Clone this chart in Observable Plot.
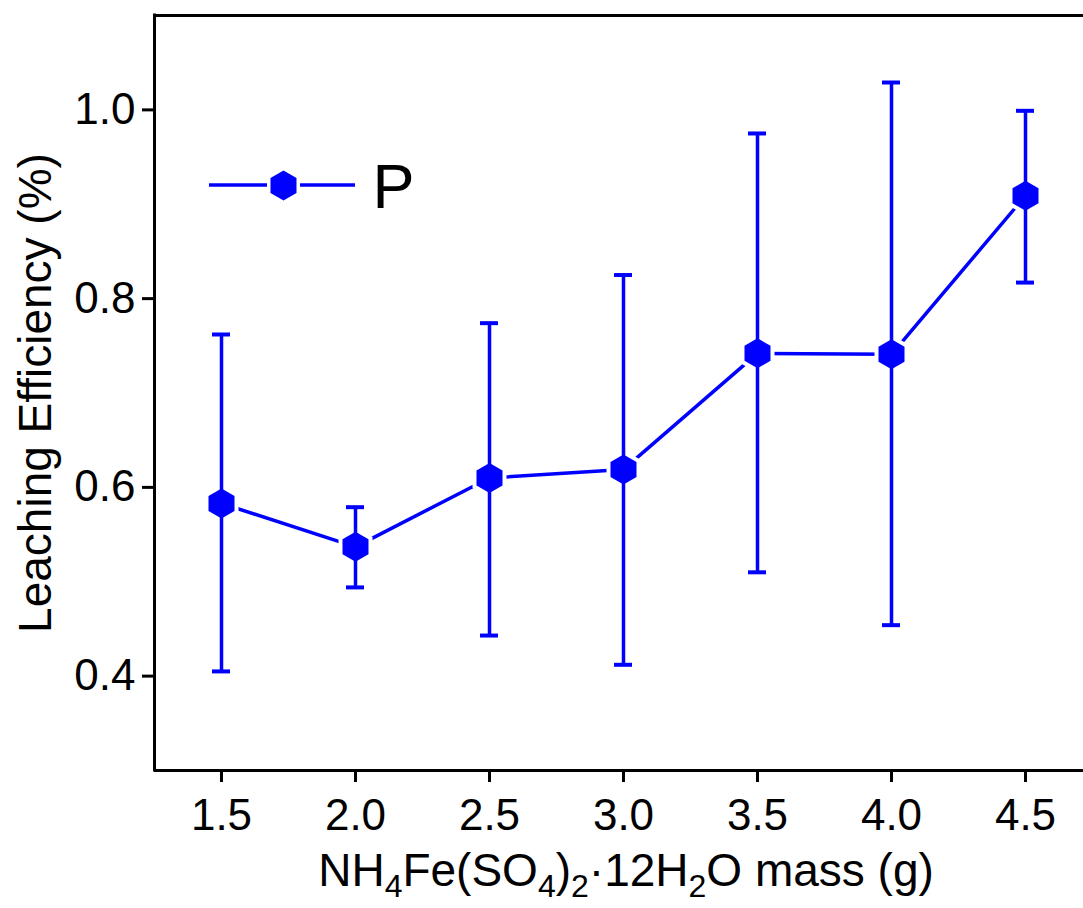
<!DOCTYPE html>
<html>
<head>
<meta charset="utf-8">
<script src="https://cdn.jsdelivr.net/npm/d3@7"></script>
<script src="https://cdn.jsdelivr.net/npm/@observablehq/plot@0.6"></script>
<style>
  html, body { margin: 0; padding: 0; background: white; overflow: hidden; }
</style>
</head>
<body>
<div id="chart"></div>
<script>
// Data
const masses = [1.5, 2.0, 2.5, 3.0, 3.5, 4.0, 4.5];
const meanValues = [0.583, 0.537, 0.610, 0.619, 0.742, 0.741, 0.909];
const upperValues = [0.762, 0.579, 0.774, 0.825, 0.975, 1.029, 0.999];
const lowerValues = [0.405, 0.494, 0.443, 0.412, 0.510, 0.454, 0.817];
const xTicks = [1.5, 2.0, 2.5, 3.0, 3.5, 4.0, 4.5];
const yTicks = [0.4, 0.6, 0.8, 1.0];
const xDomain = [1.25, 4.75];
const yDomain = [0.3, 1.1];
const seriesName = "P";
const yTitle = "Leaching Efficiency (%)";

const blue = "#0000ff";
const data = masses.map((x, i) => ({x, y: meanValues[i], hi: upperValues[i], lo: lowerValues[i]}));
const fmt = d3.format(".1f");

const plot = Plot.plot({
  width: 1083,
  height: 908,
  marginLeft: 154,
  marginTop: 15,
  marginBottom: 138,
  marginRight: 0,
  style: {fontFamily: "'Liberation Sans', Arial, sans-serif", color: "black", background: "white"},
  x: {domain: xDomain, range: [154, 1092]},
  y: {domain: yDomain},
  marks: [
    Plot.ruleY(yDomain, {stroke: "black", strokeWidth: 3}),
    Plot.ruleX([xDomain[0]], {stroke: "black", strokeWidth: 3, insetTop: -1.5, insetBottom: -1.5}),
    Plot.axisX(xTicks, {tickSize: 12, tickPadding: 16, strokeWidth: 3, fontSize: 44, tickFormat: fmt, label: null}),
    Plot.axisY(yTicks, {tickSize: 12, tickPadding: 7, strokeWidth: 3, fontSize: 44, tickFormat: fmt, label: null}),
    Plot.text([yTitle], {frameAnchor: "left", dx: -118, rotate: -90, textAnchor: "middle", lineAnchor: "middle", fontSize: 46, fill: "black"}),
    Plot.line(data, {x: "x", y: "y", stroke: blue, strokeWidth: 3.5}),
    Plot.dot(data, {x: "x", y: "y", symbol: "hexagon", r: 13, fill: blue, stroke: "white", strokeWidth: 8}),
    Plot.ruleX(data, {x: "x", y1: "lo", y2: "hi", stroke: blue, strokeWidth: 3.5}),
    Plot.ruleY(data, {x1: "x", x2: "x", y: "hi", insetLeft: -9, insetRight: -9, stroke: blue, strokeWidth: 4}),
    Plot.ruleY(data, {x1: "x", x2: "x", y: "lo", insetLeft: -9, insetRight: -9, stroke: blue, strokeWidth: 4}),
    Plot.dot(data, {x: "x", y: "y", symbol: "hexagon", r: 13, fill: blue}),
    // legend
    Plot.dot([seriesName], {frameAnchor: "top-left", dx: 129, dy: 170, symbol: "hexagon", r: 13, fill: blue, stroke: "white", strokeWidth: 7, paintOrder: "stroke"}),
    Plot.text([seriesName], {frameAnchor: "top-left", dx: 218, dy: 172, text: d => d, textAnchor: "start", lineAnchor: "middle", fontSize: 63, fill: "black"})
  ]
});

const NS = "http://www.w3.org/2000/svg";
const kids = Array.from(plot.children);
const legendDot = kids[kids.length - 2];
// legend line, placed behind the legend marker
const line = document.createElementNS(NS, "line");
line.setAttribute("x1", 209); line.setAttribute("x2", 355);
line.setAttribute("y1", 185); line.setAttribute("y2", 185);
line.setAttribute("stroke", blue); line.setAttribute("stroke-width", 3.5);
plot.insertBefore(line, legendDot);

// x-axis title with subscripts
const t = d3.select(plot).append("text")
  .attr("x", 626).attr("y", 886)
  .attr("text-anchor", "middle")
  .attr("font-size", 46)
  .attr("fill", "black");
const parts = [["NH", 0], ["4", 1], ["Fe(SO", 0], ["4", 1], [")", 0], ["2", 1], ["\u00b712H", 0], ["2", 1], ["O mass (g)", 0]];
let prevSub = false;
for (const [s, sub] of parts) {
  const dy = sub && !prevSub ? 11 : (!sub && prevSub ? -11 : 0);
  t.append("tspan").attr("dy", dy).attr("font-size", sub ? 32 : 46).text(s);
  prevSub = !!sub;
}

document.getElementById("chart").appendChild(plot);
</script>
</body>
</html>
